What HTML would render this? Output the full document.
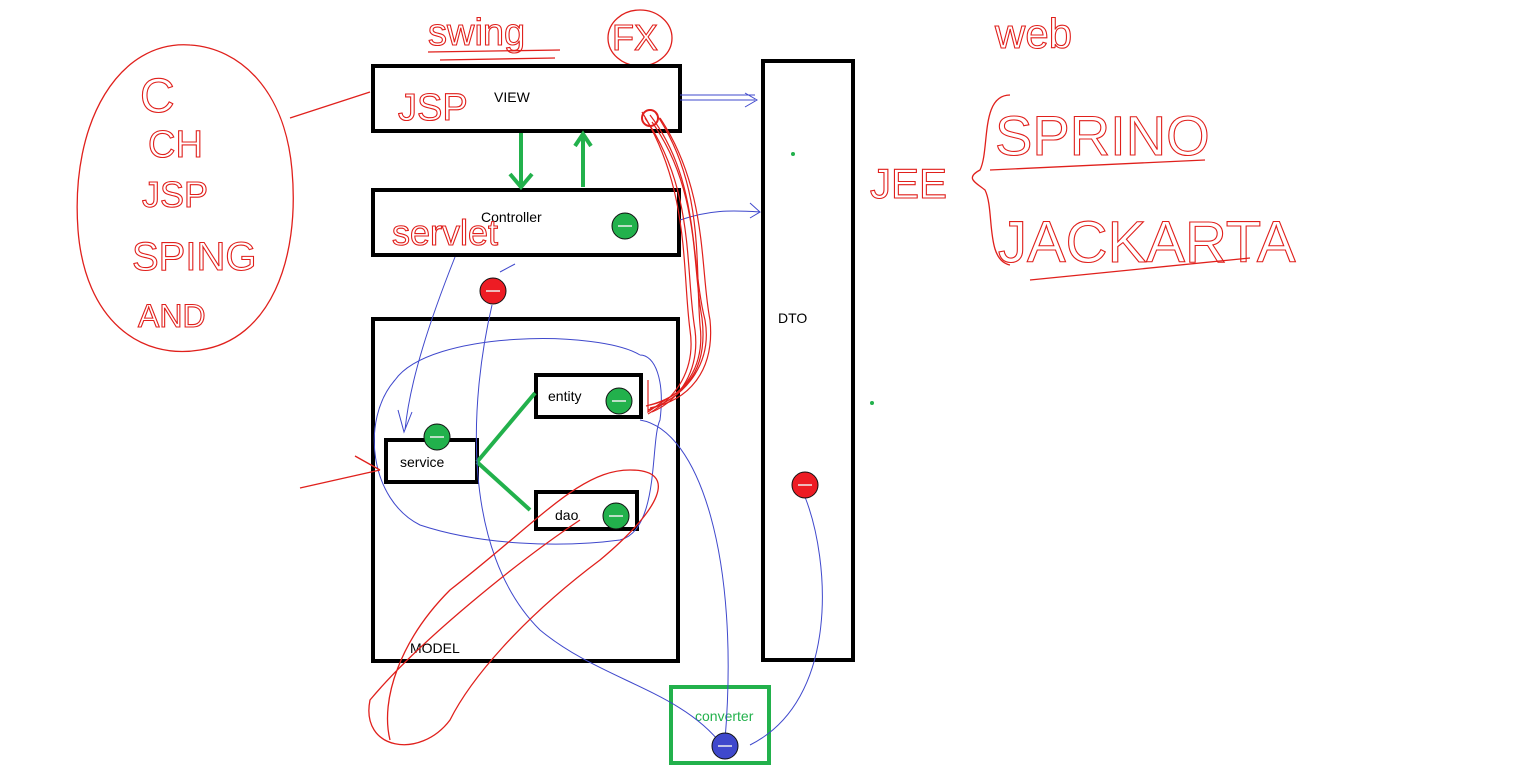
<!DOCTYPE html>
<html><head><meta charset="utf-8"><style>
html,body{margin:0;padding:0;background:#fff;}
svg{display:block}
text{font-family:"Liberation Sans",sans-serif;}
.h{fill:none;stroke:#e0201c;stroke-width:1.1;}
</style></head><body>
<svg width="1540" height="780" viewBox="0 0 1540 780" xmlns="http://www.w3.org/2000/svg">
<defs>
<g id="gc"><circle r="13" fill="#22b14c" stroke="#111" stroke-width="1"/><line x1="-7" y1="0" x2="7" y2="0" stroke="#eee" stroke-width="1.5"/></g>
<g id="rc"><circle r="13" fill="#ed1c24" stroke="#111" stroke-width="1"/><line x1="-7" y1="0" x2="7" y2="0" stroke="#eee" stroke-width="1.5"/></g>
<g id="bc"><circle r="13" fill="#3f48cc" stroke="#111" stroke-width="1"/><line x1="-7" y1="0" x2="7" y2="0" stroke="#eee" stroke-width="1.5"/></g>
</defs>

<path d="M290 118 L370 92" stroke="#e0201c" stroke-width="1.3" fill="none"/>
<path d="M190 45 C120 40 70 120 78 230 C85 320 140 360 200 350 C270 340 300 260 292 170 C285 90 240 48 190 45" stroke="#e0201c" stroke-width="1.3" fill="none"/>
<text class="h" x="140" y="112" font-size="48">C</text>
<text class="h" x="148" y="157" font-size="38">CH</text>
<text class="h" x="142" y="207" font-size="36">JSP</text>
<text class="h" x="132" y="270" font-size="40">SPING</text>
<text class="h" x="138" y="327" font-size="32">AND</text>

<text class="h" x="428" y="45" font-size="38">swing</text>
<path d="M428 52 L560 50 M440 60 L555 58" stroke="#e0201c" stroke-width="1.3"/>
<ellipse cx="640" cy="38" rx="32" ry="28" fill="none" stroke="#e0201c" stroke-width="1.3"/>
<text class="h" x="612" y="50" font-size="36">FX</text>
<text class="h" x="995" y="48" font-size="42">web</text>
<text class="h" x="870" y="198" font-size="42">JEE</text>
<path d="M1010 95 C980 95 990 150 980 170 C965 178 975 182 985 190 C995 210 985 260 1010 265" stroke="#e0201c" stroke-width="1.3" fill="none"/>
<text class="h" x="995" y="155" font-size="56">SPRINO</text>
<path d="M990 170 L1205 160" stroke="#e0201c" stroke-width="1.3"/>
<text class="h" x="998" y="262" font-size="58">JACKARTA</text>
<path d="M1030 280 L1250 258" stroke="#e0201c" stroke-width="1.3"/>

<rect x="373" y="66" width="307" height="65" fill="none" stroke="#000" stroke-width="4"/>
<text x="494" y="102" font-size="14">VIEW</text>
<text class="h" x="398" y="120" font-size="38">JSP</text>

<rect x="373" y="190" width="306" height="65" fill="none" stroke="#000" stroke-width="4"/>
<text x="481" y="222" font-size="14">Controller</text>
<text class="h" x="392" y="245" font-size="36">servlet</text>

<rect x="373" y="319" width="305" height="342" fill="none" stroke="#000" stroke-width="4"/>
<text x="410" y="653" font-size="14">MODEL</text>

<rect x="536" y="375" width="105" height="42" fill="none" stroke="#000" stroke-width="4"/>
<text x="548" y="401" font-size="14">entity</text>
<rect x="386" y="440" width="91" height="42" fill="none" stroke="#000" stroke-width="4"/>
<text x="400" y="467" font-size="14">service</text>
<rect x="536" y="492" width="101" height="37" fill="none" stroke="#000" stroke-width="4"/>
<text x="555" y="520" font-size="14">dao</text>

<rect x="763" y="61" width="90" height="599" fill="none" stroke="#000" stroke-width="4"/>
<text x="778" y="323" font-size="14">DTO</text>

<rect x="671" y="687" width="98" height="76" fill="none" stroke="#22b14c" stroke-width="4"/>
<text x="695" y="721" font-size="14" fill="#22b14c">converter</text>

<g stroke="#22b14c" stroke-width="4" fill="none">
<path d="M521 133 L521 186 M510 174 L521 187 L532 174"/>
<path d="M583 187 L583 135 M575 146 L583 134 L591 146"/>
<path d="M477 462 L535 393 M477 462 L530 510"/>
</g>
<circle cx="793" cy="154" r="2" fill="#22b14c"/>
<circle cx="872" cy="403" r="2" fill="#22b14c"/>

<g stroke="#3f48cc" stroke-width="1" fill="none">
<path d="M680 100 L755 100 M745 93 L757 100 L745 107 M680 95 L755 95"/>
<path d="M680 220 C710 210 730 210 760 212 M750 203 L760 212 L750 218"/>
<path d="M455 257 C430 320 410 380 405 430 M398 410 L404 432 L412 412"/>
<path d="M500 272 L515 264"/>
<path d="M492 305 C470 400 460 550 540 630 C600 680 680 690 722 745"/>
<path d="M805 497 C830 560 840 700 750 745"/>
<path d="M640 420 C700 430 740 560 725 740"/>
<path d="M640 355 C600 330 430 330 395 380 C360 420 370 500 420 525 C480 545 560 548 620 540 C660 530 650 440 660 420 C665 380 655 355 640 355"/>
</g>

<g stroke="#e0201c" stroke-width="1.3" fill="none">
<path d="M300 488 L380 470 M355 456 L380 470"/>
<path d="M580 520 C520 560 420 640 370 700 C360 750 420 760 450 720 C470 680 520 620 600 560 C660 510 680 470 630 470 C580 470 540 520 450 590 C400 640 380 700 390 740"/>
</g>
<g stroke="#e0201c" stroke-width="1.2" fill="none">
<path d="M650 115 C700 180 690 260 705 320 C712 360 690 395 648 410"/>
<path d="M655 112 C705 185 695 265 700 325 C705 365 685 398 650 405"/>
<path d="M645 118 C695 190 685 270 695 330 C700 370 680 400 652 412"/>
<path d="M660 118 C708 190 700 270 710 320 C715 370 690 400 650 408"/>
<path d="M642 112 C690 190 682 270 690 330 C696 370 676 398 648 414"/>
<path d="M652 122 C700 190 692 265 702 318 C708 368 688 396 646 406"/>
<path d="M648 380 L648 412 L665 400"/>
</g>
<circle cx="650" cy="118" r="8" fill="none" stroke="#e0201c" stroke-width="2"/>

<use href="#gc" x="625" y="226"/>
<use href="#rc" x="493" y="291"/>
<use href="#gc" x="619" y="401"/>
<use href="#gc" x="437" y="437"/>
<use href="#gc" x="616" y="516"/>
<use href="#rc" x="805" y="485"/>
<use href="#bc" x="725" y="746"/>
</svg>
</body></html>
